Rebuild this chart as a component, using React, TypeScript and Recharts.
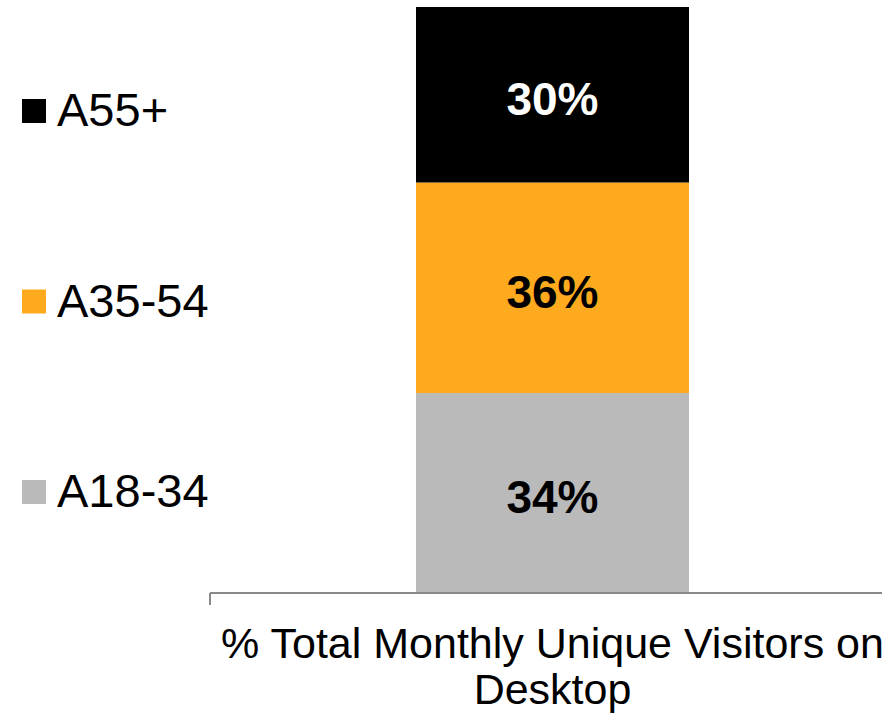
import * as React from "react";
import { BarChart, Bar, XAxis, YAxis, LabelList } from "recharts";

const categories = ["% Total Monthly Unique Visitors on Desktop"];
const categoryLines = ["% Total Monthly Unique Visitors on", "Desktop"];
const seriesNames = ["A18-34", "A35-54", "A55+"];
const a1834 = [34];
const a3554 = [36];
const a55plus = [30];
const colors = ["#BABABA", "#FDAA1F", "#000000"];
const labelColors = ["#000000", "#000000", "#FFFFFF"];

const FONT = '"Liberation Sans", Arial, Helvetica, sans-serif';

const data = categories.map((c, i) => ({
  name: c,
  pos: 0.5,
  [seriesNames[0]]: a1834[i],
  [seriesNames[1]]: a3554[i],
  [seriesNames[2]]: a55plus[i],
}));

function CategoryTick(props: any) {
  const { x, y } = props;
  return (
    <g>
      {categoryLines.map((line, i) => (
        <text
          key={line}
          x={x}
          y={y + 66 + i * 46}
          textAnchor="middle"
          fill="#000"
          fontSize={43}
          fontFamily={FONT}
        >
          {line}
        </text>
      ))}
    </g>
  );
}

function SideLegend() {
  const items = seriesNames.map((n, i) => ({ name: n, color: colors[i] })).reverse();
  return (
    <svg width={210} height={593} style={{ position: "absolute", left: 0, top: 0 }}>
      {items.map((it, i) => {
        const base = 126 + i * 190.5;
        return (
          <g key={it.name}>
            <rect x={22} y={base - 27} width={24} height={24} fill={it.color} />
            <text x={57} y={base} fontSize={47} fontFamily={FONT} fill="#000">
              {it.name}
            </text>
          </g>
        );
      })}
    </svg>
  );
}

export default function App() {
  return (
    <div style={{ position: "absolute", left: 0, top: 0, width: 887, height: 715, background: "#fff" }}>
      <BarChart
        width={887}
        height={715}
        data={data}
        margin={{ top: 7, right: 5, bottom: 0, left: 210 }}
        barCategoryGap={0}
      >
        <XAxis
          dataKey="name"
          height={1}
          axisLine={false}
          tickLine={false}
          tickSize={0}
          tickMargin={0}
          padding={{ left: 13, right: 0 }}
          tick={<CategoryTick />}
          interval={0}
        />
        <XAxis
          xAxisId="edge"
          dataKey="pos"
          type="number"
          domain={[0, 1]}
          allowDataOverflow
          ticks={[0]}
          interval={0}
          height={122}
          tickSize={12}
          tickFormatter={() => ""}
          axisLine={{ stroke: "#8A8A8A", strokeWidth: 2 }}
          tickLine={{ stroke: "#8A8A8A", strokeWidth: 2 }}
        />
        <YAxis hide domain={[0, 100]} />
        {seriesNames.map((s, i) => (
          <Bar key={s} dataKey={s} stackId="a" fill={colors[i]} barSize={273} isAnimationActive={false}>
            <LabelList
              dataKey={s}
              position="center"
              formatter={(v: any) => `${v}%`}
              fill={labelColors[i]}
              dy={4}
              style={{ fontSize: 46, fontWeight: 700, fontFamily: FONT }}
            />
          </Bar>
        ))}
      </BarChart>
      <SideLegend />
    </div>
  );
}
